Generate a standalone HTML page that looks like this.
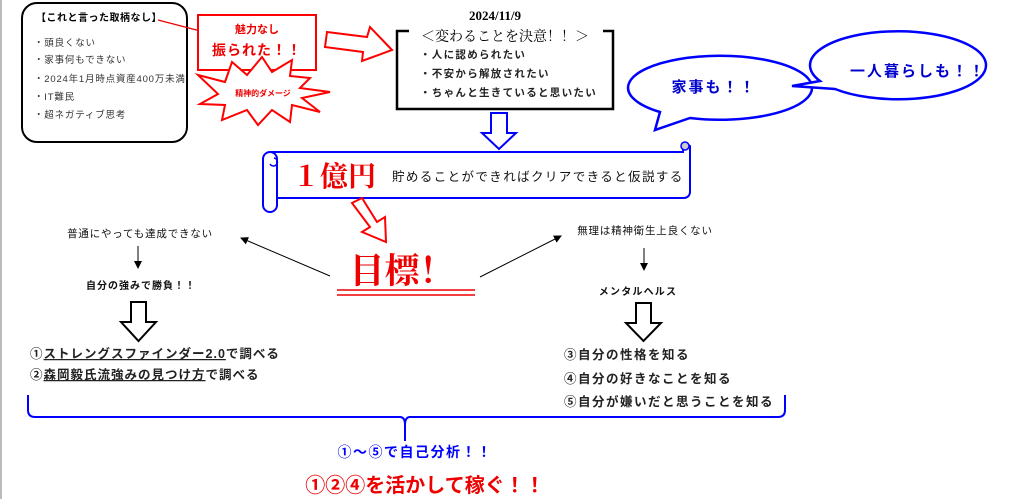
<!DOCTYPE html>
<html><head><meta charset="utf-8"><style>
html,body{margin:0;padding:0;background:#fff}
svg{display:block}
text{font-family:"Liberation Sans","Noto Sans CJK JP",sans-serif}
.s{font-family:"Liberation Serif","Noto Serif CJK SC",serif}
</style></head><body>
<svg width="1024" height="499" viewBox="0 0 1024 499" xmlns="http://www.w3.org/2000/svg">
<defs>
<marker id="ah" markerWidth="8" markerHeight="8" refX="7" refY="4" orient="auto" markerUnits="userSpaceOnUse"><path d="M0,0 L8,4 L0,8 z" fill="#000"/></marker>
<marker id="ahr" markerWidth="8" markerHeight="8" refX="7" refY="4" orient="auto" markerUnits="userSpaceOnUse"><path d="M0,0 L8,4 L0,8 z" fill="#e00"/></marker>
</defs>
<line x1="1" y1="0" x2="1" y2="499" stroke="#bbb" stroke-width="2"/>
<rect x="22" y="3" width="165" height="139" rx="15" fill="#fff" stroke="#000" stroke-width="2"/>
<text x="36" y="21" font-size="10" font-weight="bold" letter-spacing="0.5">【これと言った取柄なし】</text>
<g font-size="9.5" fill="#333" letter-spacing="0.8">
<text x="34" y="46">・頭良くない</text>
<text x="34" y="63">・家事何もできない</text>
<text x="34" y="82">・2024年1月時点資産400万未満</text>
<text x="34" y="100">・IT難民</text>
<text x="34" y="118">・超ネガティブ思考</text>
</g>
<line x1="158" y1="20" x2="208" y2="33" stroke="#e00" stroke-width="1.2" marker-end="url(#ahr)"/>
<rect x="198" y="15" width="118" height="55" fill="#fff" stroke="#f00" stroke-width="2"/>
<text x="257" y="33" font-size="11" font-weight="bold" fill="#e00" text-anchor="middle">魅力なし</text>
<text x="257" y="55" font-size="14" font-weight="bold" fill="#e00" text-anchor="middle" letter-spacing="1">振られた！！</text>
<polygon points="198,75 225,82 232,62 247,75 262,57 272,72 292,60 290,76 310,78 300,88 330,92 302,98 320,112 292,105 290,122 272,110 258,125 247,110 222,120 225,105 200,104 218,94" fill="#fff" stroke="#f00" stroke-width="2"/>
<text x="263" y="96" font-size="8" font-weight="bold" fill="#e00" text-anchor="middle">精神的ダメージ</text>
<polygon points="327,32 367,37 370,27 392,50 362,61 363,52 325,47" fill="#fff" stroke="#f00" stroke-width="2"/>
<text x="495" y="20" class="s" font-size="13" font-weight="bold" text-anchor="middle">2024/11/9</text>
<path d="M409,31 H397 V109 H613 V31 H603" fill="none" stroke="#000" stroke-width="2.5"/>
<text x="505" y="41" class="s" font-size="14" text-anchor="middle">＜変わることを決意！！＞</text>
<g font-size="10.5" font-weight="bold" fill="#222" letter-spacing="1.3">
<text x="420" y="58">・人に認められたい</text>
<text x="420" y="77">・不安から解放されたい</text>
<text x="420" y="96">・ちゃんと生きていると思いたい</text>
</g>
<polygon points="491,113 507,113 507,133 516,133 499,149 482,133 491,133" fill="#fff" stroke="#00f" stroke-width="2"/>
<path d="M655,130 L660,112 A92,32 0 1 1 690,118 Z" fill="#fff" stroke="#00f" stroke-width="2.5"/>
<path d="M792,86 L820,81 A88,34 0 1 1 835,89 Z" fill="#fff" stroke="#00f" stroke-width="2.5"/>
<text x="714" y="92" font-size="15" font-weight="bold" fill="#00c" text-anchor="middle" letter-spacing="2">家事も！！</text>
<text x="918" y="76" font-size="15" font-weight="bold" fill="#00c" text-anchor="middle" letter-spacing="2">一人暮らしも！！</text>
<path d="M270,152 H683 V146 A5,5 0 0 1 690,146 V192 A6,6 0 0 1 684,198 H277" fill="#fff" stroke="#00f" stroke-width="2"/>
<circle cx="685" cy="146" r="4" fill="#ccc" stroke="#00f" stroke-width="1.5"/>
<rect x="263" y="152" width="14" height="60" rx="7" fill="#fff" stroke="#00f" stroke-width="2"/>
<path d="M270,164 A4,4 0 1 0 274,158" fill="none" stroke="#00f" stroke-width="1.5"/>
<text x="292" y="186" class="s" font-size="28" font-weight="bold" fill="#e00">１億円</text>
<text x="392" y="181" font-size="12.5" fill="#111" letter-spacing="1.4">貯めることができればクリアできると仮説する</text>
<polygon points="352,203 362,198 377,222 385,217 386,242 362,232 370,227" fill="#fff" stroke="#f00" stroke-width="2"/>
<text x="402" y="283" class="s" font-size="35" font-weight="bold" fill="#e00" text-anchor="middle">目標！</text>
<line x1="337" y1="290" x2="475" y2="290" stroke="#e00" stroke-width="1.5"/>
<line x1="337" y1="295" x2="475" y2="295" stroke="#e00" stroke-width="1.5"/>
<line x1="330" y1="276" x2="241" y2="238" stroke="#000" stroke-width="1" marker-end="url(#ah)"/>
<line x1="480" y1="277" x2="561" y2="236" stroke="#000" stroke-width="1" marker-end="url(#ah)"/>
<text x="140" y="237" font-size="10.5" text-anchor="middle" fill="#111" letter-spacing="0.8">普通にやっても達成できない</text>
<line x1="138" y1="246" x2="138" y2="268" stroke="#000" stroke-width="1" marker-end="url(#ah)"/>
<text x="141" y="289" font-size="10" font-weight="bold" text-anchor="middle" fill="#111" letter-spacing="1">自分の強みで勝負！！</text>
<polygon points="131,302 146,302 146,322 156,322 138.5,341 121,322 131,322" fill="#fff" stroke="#000" stroke-width="2"/>
<g font-size="12.5" font-weight="bold" fill="#222" letter-spacing="1">
<text x="30" y="358">①<tspan text-decoration="underline">ストレングスファインダー2.0</tspan>で調べる</text>
<text x="30" y="379">②<tspan text-decoration="underline">森岡毅氏流強みの見つけ方</tspan>で調べる</text>
</g>
<text x="645" y="234" font-size="10.5" text-anchor="middle" fill="#111" letter-spacing="0.8">無理は精神衛生上良くない</text>
<line x1="644" y1="248" x2="644" y2="270" stroke="#000" stroke-width="1" marker-end="url(#ah)"/>
<text x="638" y="295" font-size="10" font-weight="bold" text-anchor="middle" fill="#111" letter-spacing="1.2">メンタルヘルス</text>
<polygon points="636,303 651,303 651,323 661,323 643.5,341 626,323 636,323" fill="#fff" stroke="#000" stroke-width="2"/>
<g font-size="12.5" font-weight="bold" fill="#222" letter-spacing="1.5">
<text x="564" y="359">③自分の性格を知る</text>
<text x="564" y="383">④自分の好きなことを知る</text>
<text x="564" y="406">⑤自分が嫌いだと思うことを知る</text>
</g>
<path d="M28,395 V410 Q28,417 35,417 H400 Q405,417 405,425 V441 M405,425 Q405,417 410,417 H778 Q785,417 785,410 V395" fill="none" stroke="#00f" stroke-width="2"/>
<text x="415" y="457" font-size="14" font-weight="bold" fill="#00f" text-anchor="middle" letter-spacing="1.5">①～⑤で自己分析！！</text>
<text x="425" y="492" font-size="20" font-weight="bold" fill="#e00" text-anchor="middle">①②④を活かして稼ぐ！！</text>
</svg>
</body></html>
